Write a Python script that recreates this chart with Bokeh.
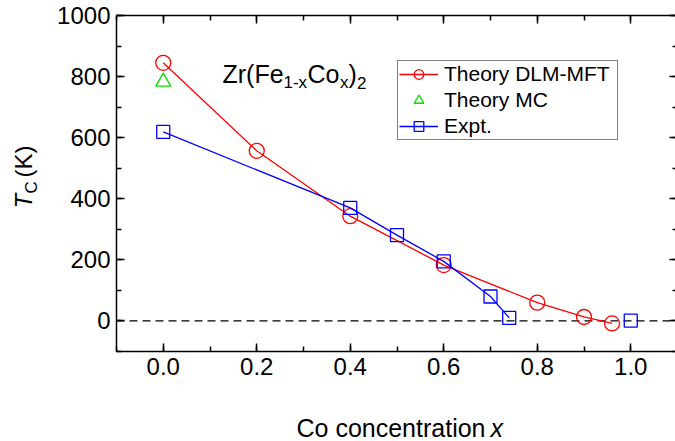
import math
from bokeh.plotting import figure
from bokeh.models import (Range1d, LinearAxis, SingleIntervalTicker, Label,
                          Legend, LegendItem, PrintfTickFormatter)
from bokeh.embed import file_html
from bokeh.resources import INLINE

# ---- data ----
dlm_x = [0.0, 0.2, 0.4, 0.6, 0.8, 0.9, 0.96]
dlm_y = [845, 557, 343, 183, 60, 13, -8]
mc_x = [0.0]
mc_y = [783]
exp_x = [0.0, 0.4, 0.5, 0.6, 0.7, 0.74]
exp_y = [619, 370, 281, 195, 80, 10]
exp_extra_x = [1.0]
exp_extra_y = [1]

# axis limits of the plot box and tick steps
x_lo, x_hi = -0.1, 1.1
y_lo, y_hi = -100, 1000
x_ticks_step = 0.2
y_ticks_step = 200

FONT = "Liberation Sans"

# ---- page geometry (pixels) ----
W, H = 675, 441
BOX_L, BOX_R, BOX_T, BOX_B = 116, 677, 15, 351
kx = (BOX_R - BOX_L) / (x_hi - x_lo)
ky = (BOX_B - BOX_T) / (y_hi - y_lo)
xr = Range1d(x_lo - BOX_L / kx, x_hi - (BOX_R - W) / kx)
yr = Range1d(y_lo - (H - BOX_B) / ky, y_hi + BOX_T / ky)

p = figure(width=W, height=H, output_backend="svg", toolbar_location=None,
           x_range=xr, y_range=yr,
           min_border_left=0, min_border_right=0, min_border_top=0,
           min_border_bottom=0, x_axis_location=None, y_axis_location=None)
p.grid.visible = False
p.outline_line_color = None
p.background_fill_color = "white"
p.border_fill_color = "white"


def style_axis(ax, show_labels):
    ax.axis_line_color = "black"
    ax.axis_line_width = 1.5
    ax.major_tick_line_color = "black"
    ax.major_tick_line_width = 1.5
    ax.minor_tick_line_color = "black"
    ax.minor_tick_line_width = 1.5
    ax.major_tick_in = 8
    ax.major_tick_out = 0
    ax.minor_tick_in = 5
    ax.minor_tick_out = 0
    if show_labels:
        ax.major_label_text_font = FONT
        ax.major_label_text_font_size = "24px"
        ax.major_label_text_color = "black"
        ax.major_label_standoff = 6
    else:
        ax.major_label_text_color = None
        ax.major_label_text_font_size = "1px"
        ax.major_label_standoff = 0


def xt():
    return SingleIntervalTicker(interval=x_ticks_step, num_minor_ticks=2)


def yt():
    return SingleIntervalTicker(interval=y_ticks_step, num_minor_ticks=2)


bottom = LinearAxis(ticker=xt(), formatter=PrintfTickFormatter(format="%.1f"),
                    fixed_location=y_lo, bounds=(x_lo, x_hi))
style_axis(bottom, True)
p.add_layout(bottom, "below")

top = LinearAxis(ticker=xt(), fixed_location=y_hi, bounds=(x_lo, x_hi))
style_axis(top, False)
p.add_layout(top, "above")

left = LinearAxis(ticker=yt(), fixed_location=x_lo, bounds=(y_lo, y_hi))
style_axis(left, True)
p.add_layout(left, "left")

right = LinearAxis(ticker=yt(), fixed_location=x_hi, bounds=(y_lo, y_hi))
style_axis(right, False)
p.add_layout(right, "right")

# zero line across the box
p.segment(x0=[x_lo], y0=[0], x1=[x_hi], y1=[0], line_color="black",
          line_width=1.3, line_dash="8 5")

RED = "#ff0000"
GREEN = "#00e000"
BLUE = "#0000ff"

l1 = p.line(dlm_x, dlm_y, line_color=RED, line_width=1.3)
s1 = p.scatter(dlm_x, dlm_y, marker="circle", size=15, fill_color=None,
               line_color=RED, line_width=1.3)
s2 = p.scatter(mc_x, mc_y, marker="triangle", size=15, fill_color=None,
               line_color=GREEN, line_width=1.3)
l3 = p.line(exp_x, exp_y, line_color=BLUE, line_width=1.3)
s3 = p.scatter(exp_x, exp_y, marker="square", size=13, fill_color=None,
               line_color=BLUE, line_width=1.3)
s3b = p.scatter(exp_extra_x, exp_extra_y, marker="square", size=13, fill_color=None,
                line_color=BLUE, line_width=1.3)

legend = Legend(items=[
    LegendItem(label="Theory DLM-MFT", renderers=[l1, s1]),
    LegendItem(label="Theory MC", renderers=[s2]),
    LegendItem(label="Expt.", renderers=[l3, s3]),
], location=(397, H - 140))
legend.label_text_font = FONT
legend.label_text_font_size = "21px"
legend.label_text_color = "black"
legend.glyph_width = 39
legend.glyph_height = 24
legend.label_height = 24
legend.label_width = 172
legend.label_standoff = 6
legend.spacing = 2
legend.padding = 1
legend.margin = 0
legend.border_line_color = "black"
legend.border_line_width = 1.3
legend.background_fill_color = "white"
legend.background_fill_alpha = 1.0
p.add_layout(legend)

SHIFT = 0.4  # empirical baseline correction, in em


def lab(x, y_top, text, size, italic=False, rotated=False):
    # x, y_top: pixel position of the baseline start, measured from the page's top-left
    px = int(size.rstrip("px"))
    if rotated:
        x -= SHIFT * px
    else:
        y_top -= SHIFT * px
    p.add_layout(Label(x=x, y=H - y_top, x_units="screen", y_units="screen", text=text,
                       text_font=FONT, text_font_size=size,
                       text_font_style="italic" if italic else "normal",
                       text_color="black", text_align="left",
                       text_baseline="alphabetic",
                       angle=math.pi / 2 if rotated else 0.0))


# compound annotation Zr(Fe1-xCox)2
lab(222, 83, "Zr(Fe", "25px")
lab(283, 89, "1-x", "17px")
lab(307, 83, "Co", "25px")
lab(339.5, 89, "x", "17px")
lab(348, 83, ")", "25px")
lab(356.5, 89, "2", "17px")

# x axis label
lab(296, 437, "Co concentration", "25px")
lab(490, 437, "x", "25px", italic=True)

# y axis label (rotated)
lab(33, 208, "T", "24px", italic=True, rotated=True)
lab(38, 193, "C", "17px", rotated=True)
lab(33, 177, "(K)", "24px", rotated=True)

open("out.html", "w").write(file_html(p, INLINE))
